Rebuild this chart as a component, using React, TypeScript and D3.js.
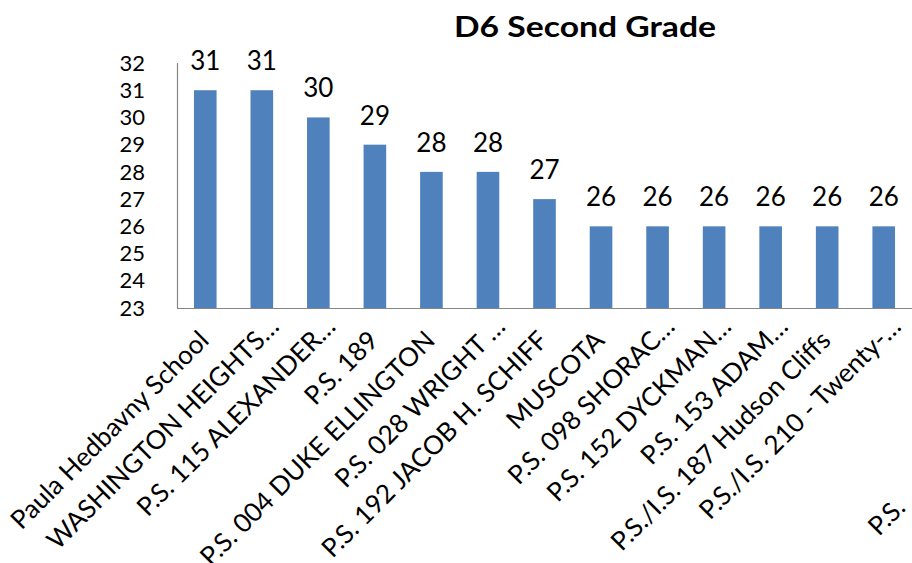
import React, { useEffect } from "react";
import * as d3 from "d3";

const title = "D6 Second Grade";
const schools = [
  "Paula Hedbavny School",
  "WASHINGTON HEIGHTS",
  "P.S. 115 ALEXANDER",
  "P.S. 189",
  "P.S. 004 DUKE ELLINGTON",
  "P.S. 028 WRIGHT\u00a0",
  "P.S. 192 JACOB H. SCHIFF",
  "MUSCOTA",
  "P.S. 098 SHORAC",
  "P.S. 152 DYCKMAN",
  "P.S. 153 ADAM",
  "P.S./I.S. 187 Hudson Cliffs",
  "P.S./I.S. 210 - Twenty-",
];
const truncated = [false, true, true, false, false, true, false, false, true, true, true, false, true];
const values = [31, 31, 30, 29, 28, 28, 27, 26, 26, 26, 26, 26, 26];
const yTicks = [23, 24, 25, 26, 27, 28, 29, 30, 31, 32];
const clippedLabel = "P.S.";

const W = 912;
const H = 563;
const FONT = "Lato, 'Open Sans', sans-serif";

export default function App() {
  useEffect(() => {
    document.body.style.margin = "0";
  }, []);

  const x = d3
    .scaleBand<string>()
    .domain(schools)
    .range([177, 912])
    .paddingInner(0)
    .paddingOuter(0);
  const y = d3.scaleLinear().domain([23, 32]).range([308, 63]);
  const step = x.step();
  const bw = step * 0.4;

  return (
    <div style={{ position: "fixed", left: 0, top: 0 }}>
      <svg width={W} height={H} style={{ display: "block", background: "#fff" }} fontFamily={FONT}>
        <text x={585} y={37} textAnchor="middle" fontWeight="bold" fontSize={29} fill="#000" textLength={262} lengthAdjust="spacingAndGlyphs">
          {title}
        </text>
        {/* y axis */}
        <line x1={177.5} x2={177.5} y1={y(32)} y2={y(23)} stroke="#868686" strokeWidth={1.2} />
        {yTicks.map((t) => (
          <text key={t} x={145} y={y(t)} dy="0.35em" textAnchor="end" fontSize={22} fill="#000">
            {t}
          </text>
        ))}
        {/* bars */}
        {schools.map((s, i) => {
          const cx = (x(s) as number) + step / 2;
          return (
            <g key={s}>
              <rect x={cx - bw / 2} y={y(values[i])} width={bw} height={y(23) - y(values[i])} fill="#4F81BD" />
              <text x={cx} y={y(values[i]) - 20} textAnchor="middle" fontSize={26} fill="#000">
                {values[i]}
              </text>
            </g>
          );
        })}
        <line x1={177} x2={W} y1={308.5} y2={308.5} stroke="#868686" strokeWidth={1.2} />
        {/* category labels */}
        {schools.map((s, i) => {
          const cx = (x(s) as number) + step / 2;
          const bx = cx + 5;
          const by = 342;
          return (
            <g key={"l" + s} transform={`translate(${bx},${by}) rotate(-45)`}>
              <text textAnchor="end" fontSize={26} fill="#000" style={{ whiteSpace: "pre" }}>
                {s}
              </text>
              {truncated[i] && (
                <text textAnchor="start" fontSize={26} fill="#000">
                  …
                </text>
              )}
            </g>
          );
        })}
        <g transform={`translate(${x.range()[1] - 33},${537}) rotate(-45)`}>
          <text textAnchor="start" fontSize={26} fill="#000">
            {clippedLabel}
          </text>
        </g>
      </svg>
    </div>
  );
}
